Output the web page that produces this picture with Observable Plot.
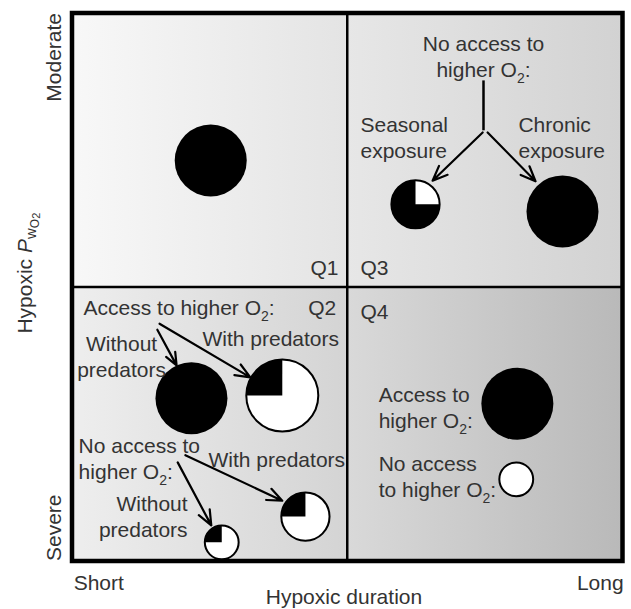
<!DOCTYPE html>
<html>
<head>
<meta charset="utf-8">
<script src="https://cdn.jsdelivr.net/npm/d3@7"></script>
<script src="https://cdn.jsdelivr.net/npm/@observablehq/plot@0.6"></script>
<style>
  html, body { margin: 0; padding: 0; background: #fff; }
  #chart { width: 631px; height: 609px; }
</style>
</head>
<body>
<div id="chart"></div>
<script>
// ---- Data (conceptual units: 0–100 on both axes) ----
const quadNames = ["Q1", "Q3", "Q2", "Q4"];
const quadX1 = [0, 50, 0, 50];
const quadX2 = [50, 100, 50, 100];
const quadY1 = [50, 50, 0, 0];
const quadY2 = [100, 100, 50, 50];

// bubbles: hypoxic duration (x), hypoxic PwO2 (y), relative magnitude, black (affected) fraction
const bubbleX = [25.2, 62.4, 89.1, 21.7, 38.2, 42.4, 27.2, 80.9, 80.7];
const bubbleY = [73.1, 65.1, 63.8, 29.7, 30.2, 8.1, 3.4, 28.7, 14.9];
const bubbleSize = [1, 0.67, 1, 1, 1, 0.67, 0.47, 1, 0.47];
const bubbleBlack = [1, 0.75, 1, 1, 0.25, 0.25, 0.25, 1, 0];

// arrows
const arrowX1 = [74.6, 75.5, 15.9, 15.5, 20.6, 19.2];
const arrowY1 = [78.2, 78.2, 43.3, 42.2, 19.3, 18.0];
const arrowX2 = [65.5, 84.2, 32.4, 19.0, 38.2, 25.3];
const arrowY2 = [69.4, 69.3, 33.5, 35.7, 11.0, 6.5];
const stemX = [74.75];
const stemY1 = [87.7];
const stemY2 = [78.6];

// annotations
const noteText = [
  "No access to\nhigher O₂:", "Seasonal\nexposure", "Chronic\nexposure", "Q1", "Q3",
  "Access to higher O₂:", "Q2", "Without\npredators", "With predators",
  "No access to\nhigher O₂:", "With predators", "Without\npredators",
  "Q4", "Access to\nhigher O₂:", "No access\nto higher O₂:"
];
const noteX = [74.75, 52.4, 81.1, 48.4, 52.4, 2.1, 48.0, 9.0, 36.1, 1.2, 37.2, 21.0, 52.4, 55.7, 55.7];
const noteY = [92.2, 77.4, 77.4, 53.7, 53.7, 46.4, 46.4, 37.5, 40.8, 18.8, 18.7, 8.3, 45.7, 28.1, 15.6];
const noteAlign = ["middle", "start", "start", "end", "start", "start", "end", "middle", "middle",
  "start", "middle", "end", "start", "start", "start"];

const xTickText = ["Short", "Long"];
const xTickX = [0.3, 100.2];
const xTickAlign = ["start", "end"];
const yTickText = ["Moderate", "Severe"];
const yTickY = [100, 0];
const yTickAlign = ["end", "start"];
const xTitle = "Hypoxic duration";
const yTitle = "Hypoxic PwO₂";

// ---- Build tables ----
const quads = quadNames.map((q, i) => ({q, x1: quadX1[i], x2: quadX2[i], y1: quadY1[i], y2: quadY2[i]}));
const bubbles = bubbleX.map((x, i) => ({x, y: bubbleY[i], size: bubbleSize[i], black: bubbleBlack[i]}));
const arrows = arrowX1.map((x1, i) => ({x1, y1: arrowY1[i], x2: arrowX2[i], y2: arrowY2[i]}));
const stems = stemX.map((x, i) => ({x, y1: stemY1[i], y2: stemY2[i]}));
const notes = noteText.map((t, i) => ({t, x: noteX[i], y: noteY[i], a: noteAlign[i]}));
const xTicks = xTickText.map((t, i) => ({t, x: xTickX[i], a: xTickAlign[i]}));
const yTicks = yTickText.map((t, i) => ({t, y: yTickY[i], a: yTickAlign[i]}));

// wedge symbol: black sector ending at 12 o'clock, covering fraction f clockwise-back
function wedge(f) {
  return {
    draw(ctx, size) {
      const r = Math.sqrt(size / Math.PI);
      const e = -Math.PI / 2, s = e - 2 * Math.PI * f;
      ctx.moveTo(0, 0);
      ctx.lineTo(r * Math.cos(s), r * Math.sin(s));
      ctx.arc(0, 0, r, s, e);
      ctx.closePath();
    }
  };
}

const font = "Liberation Sans, Arial, Helvetica, sans-serif";
const txtColor = "#333";
const fs = 21;

const partial = bubbles.filter(d => d.black > 0 && d.black < 1);
const fracs = [...new Set(partial.map(d => d.black))];

const marks = [
  Plot.rect(quads.filter(d => d.q === "Q1"), {x1: "x1", x2: "x2", y1: "y1", y2: "y2", fill: "url(#gQ1)"}),
  Plot.rect(quads.filter(d => d.q === "Q3"), {x1: "x1", x2: "x2", y1: "y1", y2: "y2", fill: "url(#gQ3)"}),
  Plot.rect(quads.filter(d => d.q === "Q2"), {x1: "x1", x2: "x2", y1: "y1", y2: "y2", fill: "url(#gQ2)"}),
  Plot.rect(quads.filter(d => d.q === "Q4"), {x1: "x1", x2: "x2", y1: "y1", y2: "y2", fill: "url(#gQ4)"}),
  Plot.ruleX([50], {stroke: "black", strokeWidth: 2.5}),
  Plot.ruleY([50], {stroke: "black", strokeWidth: 2.5}),
  Plot.frame({stroke: "black", strokeWidth: 4.5}),
  // bubbles base
  Plot.dot(bubbles.filter(d => d.black === 1), {x: "x", y: "y", r: "size", fill: "black", stroke: "none"}),
  Plot.dot(bubbles.filter(d => d.black < 1), {x: "x", y: "y", r: "size", fill: "white", stroke: "black", strokeWidth: 2}),
  ...fracs.map(f => Plot.dot(partial.filter(d => d.black === f), {x: "x", y: "y", r: "size", symbol: wedge(f), fill: "black", stroke: "none"})),
  // arrows
  Plot.link(stems, {x1: "x", x2: "x", y1: "y1", y2: "y2", stroke: "black", strokeWidth: 2.5}),
  Plot.arrow(arrows, {x1: "x1", y1: "y1", x2: "x2", y2: "y2", stroke: "black", strokeWidth: 2.2, headLength: 11, headAngle: 45}),
  // notes
  ...["start", "middle", "end"].map(a => Plot.text(notes.filter(d => d.a === a), {
    x: "x", y: "y", text: "t", textAnchor: a, lineAnchor: "middle", lineHeight: 1.24,
    fontSize: fs, fontFamily: font, fill: txtColor
  })),
  // axis tick labels
  ...["start", "end"].map(a => Plot.text(xTicks.filter(d => d.a === a), {
    x: "x", y: -4.0, text: "t", textAnchor: a, fontSize: fs, fontFamily: font, fill: txtColor
  })),
  ...["start", "end"].map(a => Plot.text(yTicks.filter(d => d.a === a), {
    x: -3.2, y: "y", text: "t", textAnchor: a, rotate: -90, fontSize: fs, fontFamily: font, fill: txtColor
  })),
  Plot.text([xTitle], {x: 49.4, y: -6.6, text: d => d, fontSize: fs, fontFamily: font, fill: txtColor}),
  Plot.text([yTitle], {x: -8.4, y: 41.5, text: d => d, textAnchor: "start", rotate: -90, fontSize: fs, fontFamily: font, fill: txtColor})
];

const chart = Plot.plot({
  width: 631,
  height: 609,
  marginLeft: 71.5,
  marginRight: 9,
  marginTop: 12.5,
  marginBottom: 48.5,
  x: {domain: [0, 100], axis: null},
  y: {domain: [0, 100], axis: null},
  r: {type: "linear", domain: [0, 1], range: [0, 36]},
  style: {background: "white", fontFamily: font, overflow: "visible"},
  marks
});

// gradients
const svgNS = "http://www.w3.org/2000/svg";
const defs = d3.select(chart).insert("defs", ":first-child");
const grads = {gQ1: ["#f8f8f8", "#e4e4e4"], gQ3: ["#e7e7e7", "#d2d2d2"], gQ2: ["#eeeeee", "#d4d4d4"], gQ4: ["#d9d9d9", "#b9b9b9"]};
for (const [id, [c0, c1]] of Object.entries(grads)) {
  const g = defs.append("linearGradient").attr("id", id).attr("x1", 0).attr("x2", 1).attr("y1", 0).attr("y2", 0);
  g.append("stop").attr("offset", "0%").attr("stop-color", c0);
  g.append("stop").attr("offset", "100%").attr("stop-color", c1);
}

// subscripts
function subscriptify(root) {
  const els = root.querySelectorAll("text, tspan");
  els.forEach(el => {
    for (const node of [...el.childNodes]) {
      if (node.nodeType !== 3) continue;
      const v = node.nodeValue;
      if (v.includes("PwO₂")) {
        const frag = document.createDocumentFragment();
        const pre = v.split("PwO₂")[0];
        frag.appendChild(document.createTextNode(pre));
        const mk = (txt, attrs) => { const t = document.createElementNS(svgNS, "tspan"); for (const k in attrs) t.setAttribute(k, attrs[k]); t.textContent = txt; return t; };
        frag.appendChild(mk("P", {"font-style": "italic"}));
        frag.appendChild(mk("w", {"font-size": 15, dy: 4}));
        frag.appendChild(mk("O", {"font-size": 12, dy: 3}));
        frag.appendChild(mk("2", {"font-size": 11, dy: 1}));
        el.replaceChild(frag, node);
      } else if (v.includes("₂")) {
        const parts = v.split("₂");
        const frag = document.createDocumentFragment();
        parts.forEach((p, i) => {
          if (i > 0) {
            const t2 = document.createElementNS(svgNS, "tspan");
            t2.setAttribute("dy", 0); t2.textContent = p; frag.appendChild(t2);
            // reset baseline handled via dy on this tspan
            t2.setAttribute("dy", -6);
          } else frag.appendChild(document.createTextNode(p));
          if (i < parts.length - 1) {
            const t = document.createElementNS(svgNS, "tspan");
            t.setAttribute("font-size", 14);
            t.setAttribute("dy", 6);
            t.textContent = "2";
            frag.appendChild(t);
          }
        });
        el.replaceChild(frag, node);
      }
    }
  });
}
subscriptify(chart);
document.getElementById("chart").appendChild(chart);
</script>
</body>
</html>
